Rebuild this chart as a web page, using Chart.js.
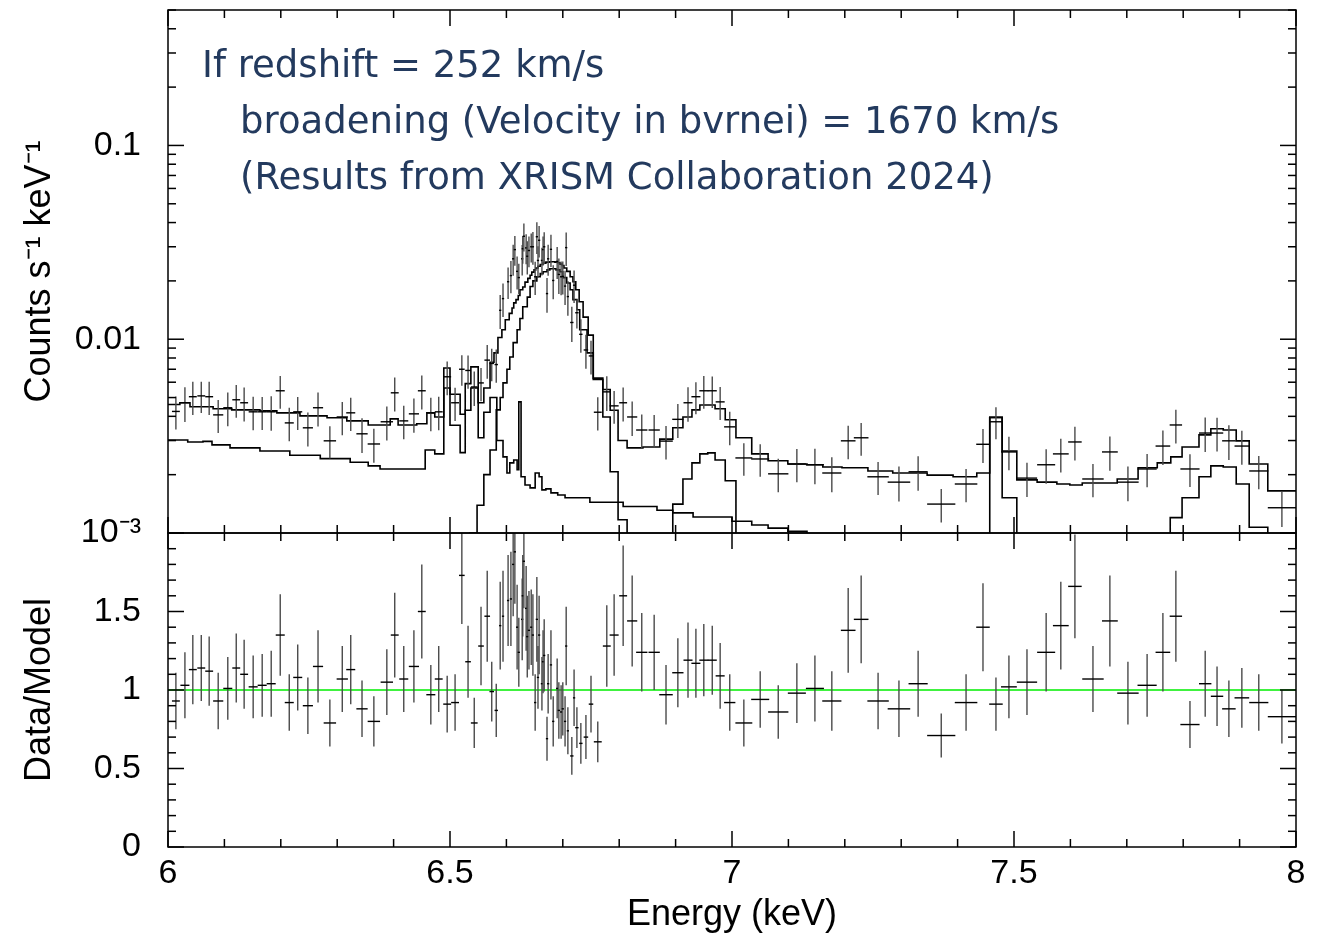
<!DOCTYPE html>
<html>
<head>
<meta charset="utf-8">
<script src="https://cdn.jsdelivr.net/npm/chart.js@4.4.0/dist/chart.umd.min.js"></script>
<style>
  html, body { margin: 0; padding: 0; background: #fff; }
  #wrap { position: relative; width: 1330px; height: 946px; }
</style>
</head>
<body>
<div id="wrap"><canvas id="spec" width="1330" height="946"></canvas></div>
<script>
// ============================================
// Data
// ============================================

// energy bin centres (keV) and half widths
const energy = [
  6.014, 6.030, 6.044, 6.059, 6.073, 6.089, 6.106, 6.121, 6.135, 6.151,
  6.167, 6.183, 6.199, 6.215, 6.230, 6.248, 6.266, 6.287, 6.309, 6.324,
  6.344, 6.365, 6.388, 6.402, 6.418, 6.436, 6.450, 6.466, 6.480, 6.495,
  6.509, 6.521, 6.532, 6.543, 6.555, 6.566, 6.574, 6.582, 6.589, 6.594,
  6.603, 6.608, 6.612, 6.615, 6.619, 6.622, 6.628, 6.629, 6.631, 6.635,
  6.637, 6.640, 6.644, 6.647, 6.651, 6.654, 6.656, 6.658, 6.663, 6.665,
  6.667, 6.672, 6.674, 6.679, 6.683, 6.690, 6.693, 6.697, 6.700, 6.704,
  6.706, 6.709, 6.716, 6.720, 6.725, 6.732, 6.741, 6.750, 6.762, 6.778,
  6.791, 6.807, 6.823, 6.840, 6.862, 6.883, 6.904, 6.922, 6.936, 6.950,
  6.965, 6.979, 6.996, 7.021, 7.050, 7.082, 7.115, 7.147, 7.177, 7.206,
  7.229, 7.259, 7.296, 7.330, 7.371, 7.415, 7.445, 7.468, 7.491, 7.523,
  7.557, 7.583, 7.608, 7.640, 7.670, 7.702, 7.736, 7.764, 7.787, 7.812,
  7.839, 7.860, 7.881, 7.904, 7.934, 7.975
];
const binHalf = [
  0.007, 0.008, 0.007, 0.007, 0.007, 0.009, 0.008, 0.007, 0.007, 0.008,
  0.008, 0.008, 0.008, 0.008, 0.008, 0.009, 0.009, 0.011, 0.010, 0.008,
  0.010, 0.011, 0.011, 0.007, 0.008, 0.009, 0.007, 0.008, 0.007, 0.007,
  0.007, 0.005, 0.005, 0.006, 0.005, 0.005, 0.004, 0.003, 0.002, 0.002,
  0.002, 0.002, 0.002, 0.002, 0.002, 0.002, 0.002, 0.002, 0.002, 0.002,
  0.002, 0.002, 0.002, 0.002, 0.002, 0.002, 0.002, 0.002, 0.002, 0.002,
  0.002, 0.002, 0.002, 0.002, 0.002, 0.002, 0.002, 0.002, 0.002, 0.002,
  0.002, 0.002, 0.003, 0.002, 0.003, 0.003, 0.004, 0.004, 0.007, 0.007,
  0.008, 0.007, 0.009, 0.010, 0.010, 0.012, 0.010, 0.008, 0.008, 0.008,
  0.008, 0.008, 0.010, 0.015, 0.016, 0.018, 0.016, 0.016, 0.017, 0.013,
  0.013, 0.019, 0.020, 0.017, 0.025, 0.020, 0.012, 0.012, 0.014, 0.018,
  0.016, 0.014, 0.012, 0.019, 0.014, 0.019, 0.017, 0.013, 0.011, 0.017,
  0.011, 0.011, 0.012, 0.013, 0.017, 0.025
];
// counts s^-1 keV^-1 (upper panel)
const counts = [
  0.00424, 0.00470, 0.00505, 0.00510, 0.00505, 0.00407, 0.00443, 0.00487, 0.00470, 0.00422,
  0.00422, 0.00422, 0.00542, 0.00370, 0.00422, 0.00349, 0.00443, 0.00299, 0.00397, 0.00417,
  0.00325, 0.00288, 0.00375, 0.00529, 0.00379, 0.00412, 0.00542, 0.00417, 0.00422, 0.00640,
  0.00470, 0.00700, 0.00690, 0.00567, 0.00595, 0.00780, 0.00750, 0.0074, 0.0141, 0.0162,
  0.0198, 0.0213, 0.0260, 0.0290, 0.0224, 0.0208, 0.0260, 0.0293, 0.0340, 0.0296,
  0.0268, 0.0287, 0.0300, 0.0300, 0.0210, 0.0338, 0.0255, 0.0324, 0.0255, 0.0290,
  0.0300, 0.0172, 0.0260, 0.0291, 0.0201, 0.0252, 0.0216, 0.0210, 0.0211, 0.0188,
  0.0297, 0.0166, 0.0122, 0.0190, 0.0137, 0.0106, 0.0088, 0.0082, 0.0042, 0.00535,
  0.00453, 0.00470, 0.00397, 0.00340, 0.00340, 0.00298, 0.00386, 0.00470, 0.00505, 0.00542,
  0.00542, 0.00475, 0.00353, 0.00244, 0.00241, 0.00202, 0.00227, 0.00225, 0.00204, 0.00299,
  0.00310, 0.00195, 0.00183, 0.00207, 0.00141, 0.00179, 0.00287, 0.00375, 0.00262, 0.00192,
  0.00225, 0.00256, 0.00295, 0.00190, 0.00262, 0.00183, 0.00214, 0.00281, 0.00361, 0.00214,
  0.00328, 0.00328, 0.00299, 0.00281, 0.00209, 0.00135
];
// data / model (lower panel) and its 1-sigma error
const ratio = [
  0.93, 1.03, 1.13, 1.14, 1.12, 0.93, 1.01, 1.14, 1.10, 1.02,
  1.03, 1.04, 1.35, 0.92, 1.08, 0.90, 1.15, 0.79, 1.07, 1.13,
  0.88, 0.80, 1.05, 1.35, 1.07, 1.15, 1.50, 0.97, 1.07, 0.91,
  0.92, 1.73, 1.18, 0.79, 1.28, 1.47, 0.99, 0.87, 1.41, 1.47,
  1.57, 1.58, 1.80, 1.88, 1.40, 1.24, 1.45, 1.60, 1.82, 1.52,
  1.34, 1.38, 1.40, 1.35, 0.92, 1.45, 1.08, 1.35, 1.04, 1.18,
  1.22, 0.69, 1.04, 1.16, 0.80, 1.01, 0.87, 0.86, 0.88, 0.80,
  1.28, 0.74, 0.58, 0.95, 0.76, 0.66, 0.70, 0.91, 0.67, 1.28,
  1.35, 1.60, 1.44, 1.24, 1.24, 0.97, 1.11, 1.19, 1.17, 1.19,
  1.19, 1.09, 0.92, 0.79, 0.94, 0.86, 0.98, 1.01, 0.93, 1.38,
  1.45, 0.93, 0.88, 1.04, 0.71, 0.92, 1.40, 0.91, 1.02, 1.05,
  1.24, 1.41, 1.66, 1.07, 1.44, 0.98, 1.03, 1.24, 1.47, 0.78,
  1.04, 0.96, 0.88, 0.95, 0.92, 0.83
];
const ratioErr = [
  0.18, 0.21, 0.22, 0.21, 0.22, 0.18, 0.20, 0.22, 0.22, 0.20,
  0.20, 0.21, 0.26, 0.18, 0.21, 0.18, 0.23, 0.15, 0.21, 0.22,
  0.18, 0.16, 0.21, 0.27, 0.21, 0.23, 0.30, 0.19, 0.21, 0.18,
  0.18, 0.31, 0.23, 0.16, 0.25, 0.29, 0.19, 0.17, 0.28, 0.29,
  0.29, 0.30, 0.33, 0.33, 0.27, 0.22, 0.26, 0.26, 0.30, 0.27,
  0.26, 0.25, 0.24, 0.26, 0.18, 0.27, 0.20, 0.25, 0.17, 0.20,
  0.23, 0.14, 0.19, 0.22, 0.16, 0.19, 0.18, 0.17, 0.17, 0.16,
  0.25, 0.15, 0.12, 0.18, 0.13, 0.13, 0.14, 0.18, 0.13, 0.26,
  0.26, 0.32, 0.29, 0.25, 0.24, 0.19, 0.22, 0.24, 0.22, 0.23,
  0.22, 0.21, 0.18, 0.15, 0.18, 0.17, 0.19, 0.21, 0.19, 0.27,
  0.28, 0.18, 0.18, 0.21, 0.14, 0.18, 0.28, 0.17, 0.20, 0.21,
  0.25, 0.28, 0.33, 0.21, 0.29, 0.20, 0.20, 0.25, 0.29, 0.15,
  0.21, 0.19, 0.18, 0.19, 0.18, 0.17
];

// model histograms: [bin start energy, value]; the last row closes the last bin
const totalModel = [
  [6.000, 0.00460], [6.021, 0.00470], [6.039, 0.00448], [6.080, 0.00438], [6.113, 0.00432],
  [6.163, 0.00427], [6.193, 0.00417], [6.234, 0.00402], [6.282, 0.00393], [6.317, 0.00379],
  [6.355, 0.00361], [6.394, 0.00388], [6.408, 0.00361], [6.441, 0.00366], [6.459, 0.00417],
  [6.473, 0.00397], [6.489, 0.00710], [6.500, 0.00520], [6.518, 0.00410], [6.527, 0.00590],
  [6.537, 0.00720], [6.550, 0.00470], [6.560, 0.00560], [6.571, 0.00760], [6.578, 0.00850],
  [6.585, 0.0102], [6.592, 0.0112], [6.598, 0.0126], [6.605, 0.0136], [6.610, 0.0145],
  [6.613, 0.0154], [6.617, 0.0160], [6.621, 0.0168], [6.624, 0.0180], [6.629, 0.0186],
  [6.633, 0.0197], [6.638, 0.0206], [6.642, 0.0214], [6.645, 0.0222], [6.649, 0.0228],
  [6.652, 0.0233], [6.656, 0.0238], [6.660, 0.0243], [6.665, 0.0247], [6.670, 0.0250],
  [6.677, 0.0251], [6.686, 0.0250], [6.691, 0.0248], [6.695, 0.0244], [6.699, 0.0240],
  [6.702, 0.0233], [6.707, 0.0224], [6.713, 0.0210], [6.718, 0.0198], [6.723, 0.0180],
  [6.729, 0.0156], [6.736, 0.0130], [6.745, 0.0105], [6.754, 0.0063], [6.771, 0.0055],
  [6.784, 0.0043], [6.798, 0.0030], [6.814, 0.00275], [6.842, 0.00278], [6.872, 0.00305],
  [6.895, 0.00349], [6.913, 0.00397], [6.929, 0.00432], [6.943, 0.00458], [6.970, 0.00438],
  [6.988, 0.00384], [7.007, 0.00310], [7.035, 0.00256], [7.064, 0.00236], [7.099, 0.00227],
  [7.133, 0.00225], [7.161, 0.00219], [7.195, 0.00217], [7.241, 0.00209], [7.285, 0.00204],
  [7.346, 0.00199], [7.392, 0.00195], [7.434, 0.00204], [7.457, 0.00395], [7.479, 0.00265],
  [7.505, 0.00188], [7.541, 0.00183], [7.576, 0.00179], [7.599, 0.00177], [7.621, 0.00181],
  [7.683, 0.00190], [7.720, 0.00217], [7.754, 0.00230], [7.778, 0.00247], [7.798, 0.00278],
  [7.828, 0.00321], [7.849, 0.00345], [7.871, 0.00340], [7.894, 0.00299], [7.917, 0.00227],
  [7.950, 0.00165], [8.000, null]
];
const contModel = [
  [6.000, 0.00302], [6.035, 0.00295], [6.062, 0.00297], [6.078, 0.00285], [6.110, 0.00275],
  [6.163, 0.00265], [6.216, 0.00252], [6.270, 0.00242], [6.323, 0.00232], [6.355, 0.00222],
  [6.376, 0.00214], [6.456, 0.00268], [6.473, 0.00256], [6.489, 0.00560], [6.500, 0.00360],
  [6.518, 0.00260], [6.527, 0.00430], [6.537, 0.00560], [6.550, 0.00310], [6.560, 0.00420],
  [6.571, 0.00500], [6.583, 0.00300], [6.594, 0.00247], [6.601, 0.00204], [6.606, 0.00230],
  [6.613, 0.00238], [6.619, 0.00212], [6.622, 0.00475], [6.626, 0.00195], [6.633, 0.00177],
  [6.642, 0.00171], [6.651, 0.00204], [6.658, 0.00195], [6.663, 0.00167], [6.670, 0.00169],
  [6.679, 0.00161], [6.691, 0.00157], [6.704, 0.00152], [6.748, 0.00144], [6.807, 0.00137],
  [6.867, 0.00131], [6.895, 0.00127], [6.931, 0.00121], [7.000, 0.00115], [7.035, 0.00110],
  [7.064, 0.00106], [7.099, 0.00102], [7.133, 0.0001], [7.200, null]
];
const heModel = [
  [6.520, 0.0001], [6.535, 0.00100], [6.548, 0.00139], [6.560, 0.00200], [6.571, 0.00268],
  [6.582, 0.00432], [6.589, 0.00500], [6.594, 0.00595], [6.601, 0.00700], [6.606, 0.00810],
  [6.612, 0.00960], [6.619, 0.0112], [6.624, 0.0128], [6.629, 0.0147], [6.637, 0.0165],
  [6.642, 0.0187], [6.647, 0.0200], [6.654, 0.0210], [6.660, 0.0218], [6.665, 0.0223],
  [6.672, 0.0228], [6.677, 0.0231], [6.688, 0.0228], [6.695, 0.0223], [6.700, 0.0208],
  [6.707, 0.0195], [6.713, 0.0180], [6.718, 0.0160], [6.725, 0.0142], [6.730, 0.0112],
  [6.743, 0.0085], [6.754, 0.0062], [6.771, 0.00397], [6.784, 0.00207], [6.798, 0.00117],
  [6.814, 0.0001], [6.830, null]
];
const lyaModel = [
  [6.880, 0.0001], [6.895, 0.00141], [6.913, 0.00190], [6.929, 0.00230], [6.943, 0.00256],
  [6.957, 0.00259], [6.970, 0.00238], [6.988, 0.00186], [7.007, 0.0001], [7.020, null]
];
const niModel = [
  [7.440, 0.0001], [7.457, 0.00395], [7.479, 0.00152], [7.505, 0.0001], [7.520, null]
];
const hebModel = [
  [7.760, 0.0001], [7.777, 0.00120], [7.798, 0.00152], [7.828, 0.00195], [7.849, 0.00222],
  [7.871, 0.00219], [7.894, 0.00179], [7.917, 0.00107], [7.950, 0.0001], [7.970, null]
];

const xTickLabels = ['6', '6.5', '7', '7.5', '8'];
const countTickLabels = { '-1': '0.1', '-2': '0.01', '-3': '10\u207B\u00B3' };
const ratioTickLabels = ['0', '0.5', '1', '1.5'];

const noteLines = [
  'If redshift = 252 km/s',
  'broadening (Velocity in bvrnei) = 1670 km/s',
  '(Results from XRISM Collaboration 2024)'
];

// ============================================
// Helpers
// ============================================

const AXIS_FONT = "'Liberation Sans', Arial, Helvetica, sans-serif";

function stepPoints(rows) {
  return rows.map((r, i) => ({ x: r[0], y: r[1] !== null ? r[1] : rows[i - 1][1] }));
}

function modelSet(label, rows) {
  return {
    label: label,
    data: stepPoints(rows),
    yAxisID: 'y',
    stepped: true,
    borderColor: '#000',
    borderWidth: 1.6,
    pointRadius: 0,
    fill: false
  };
}

// clip every dataset to its own panel
const panelClip = {
  id: 'panelClip',
  beforeDatasetDraw(chart, args) {
    const ys = chart.scales[args.meta.yAxisID];
    const xs = chart.scales.x;
    const ctx = chart.ctx;
    ctx.save();
    ctx.beginPath();
    ctx.rect(xs.left, ys.top, xs.right - xs.left, ys.bottom - ys.top);
    ctx.clip();
  },
  afterDatasetDraw(chart) {
    chart.ctx.restore();
  }
};

// data points drawn as error crosses
const errorCrosses = {
  id: 'errorCrosses',
  afterDatasetsDraw(chart) {
    const { ctx, scales } = chart;
    const xs = scales.x;
    const panels = [
      { s: scales.y, val: i => counts[i], lo: i => counts[i] * (1 - ratioErr[i] / ratio[i]), hi: i => counts[i] * (1 + ratioErr[i] / ratio[i]) },
      { s: scales.y2, val: i => ratio[i], lo: i => ratio[i] - ratioErr[i], hi: i => ratio[i] + ratioErr[i] }
    ];
    panels.forEach(p => {
      ctx.save();
      ctx.beginPath();
      ctx.rect(xs.left, p.s.top, xs.right - xs.left, p.s.bottom - p.s.top);
      ctx.clip();
      ctx.lineWidth = 1.4;
      energy.forEach((e, i) => {
        const px = xs.getPixelForValue(e);
        const x0 = xs.getPixelForValue(e - binHalf[i]);
        const x1 = xs.getPixelForValue(e + binHalf[i]);
        const py = p.s.getPixelForValue(p.val(i));
        ctx.strokeStyle = '#4a4a4a';
        ctx.beginPath();
        ctx.moveTo(px, p.s.getPixelForValue(p.hi(i)));
        ctx.lineTo(px, p.s.getPixelForValue(p.lo(i)));
        ctx.stroke();
        ctx.strokeStyle = '#000';
        ctx.beginPath();
        ctx.moveTo(x0, py);
        ctx.lineTo(x1, py);
        ctx.stroke();
      });
      ctx.restore();
    });
  }
};

// frames, inward tick marks and the annotation
const frameAndTicks = {
  id: 'frameAndTicks',
  afterDraw(chart) {
    const { ctx, scales } = chart;
    const xs = scales.x, yt = scales.y, yb = scales.y2;
    const L = xs.left, R = xs.right;
    ctx.save();
    ctx.strokeStyle = '#000';
    ctx.lineWidth = 1.5;
    const seg = (a, b, c, d) => { ctx.beginPath(); ctx.moveTo(a, b); ctx.lineTo(c, d); ctx.stroke(); };

    [yt, yb].forEach(s => ctx.strokeRect(L, s.top, R - L, s.bottom - s.top));

    // x ticks on all four horizontal edges
    for (let k = 0; k <= 20; k++) {
      const px = xs.getPixelForValue(6 + k * 0.1);
      const len = k % 5 === 0 ? 16 : 8;
      seg(px, yt.top, px, yt.top + len);
      seg(px, yt.bottom, px, yt.bottom - len);
      seg(px, yb.top, px, yb.top + len);
      seg(px, yb.bottom, px, yb.bottom - len);
    }
    // log ticks, upper panel
    for (let d = -3; d <= -1; d++) {
      for (let m = 1; m <= 9; m++) {
        const v = m * Math.pow(10, d);
        if (v > yt.max * 1.0001) continue;
        const py = yt.getPixelForValue(v);
        const len = m === 1 ? 16 : 8;
        seg(L, py, L + len, py);
        seg(R, py, R - len, py);
      }
    }
    // linear ticks, lower panel
    for (let k = 0; k <= 20; k++) {
      const py = yb.getPixelForValue(k * 0.1);
      const len = k % 5 === 0 ? 16 : 8;
      seg(L, py, L + len, py);
      seg(R, py, R - len, py);
    }

    // annotation
    ctx.fillStyle = '#233a5e';
    ctx.font = "37px 'DejaVu Sans', 'Noto Sans', sans-serif";
    ctx.textBaseline = 'alphabetic';
    ctx.textAlign = 'left';
    ctx.fillText(noteLines[0], 202, 77);
    ctx.fillText(noteLines[1], 240, 133);
    ctx.fillText(noteLines[2], 240, 189);
    ctx.restore();
  }
};

function fixWidth(scale) {
  scale.width = 168;
  scale.paddingTop = 0;
  scale.paddingBottom = 0;
}

// ============================================
// Chart
// ============================================

new Chart(document.getElementById('spec'), {
  type: 'line',
  data: {
    datasets: [
      modelSet('total', totalModel),
      modelSet('continuum', contModel),
      modelSet('Fe He', heModel),
      modelSet('Fe Ly', lyaModel),
      modelSet('Ni He', niModel),
      modelSet('Fe He beta', hebModel),
      {
        label: 'unity',
        data: [{ x: 6, y: 1 }, { x: 8, y: 1 }],
        yAxisID: 'y2',
        borderColor: '#00ee00',
        borderWidth: 1.3,
        pointRadius: 0,
        fill: false
      }
    ]
  },
  options: {
    responsive: false,
    animation: false,
    devicePixelRatio: 1,
    layout: { padding: { top: 10, right: 34, bottom: 0, left: 0 } },
    plugins: {
      legend: { display: false },
      tooltip: { enabled: false }
    },
    scales: {
      x: {
        type: 'linear',
        position: 'bottom',
        min: 6,
        max: 8,
        grid: { display: false, drawTicks: false },
        border: { display: false },
        ticks: {
          stepSize: 0.5,
          padding: 6,
          color: '#000',
          autoSkip: false,
          maxRotation: 0,
          font: { family: AXIS_FONT, size: 34 },
          callback: (v) => xTickLabels[Math.round((v - 6) * 2)]
        },
        title: {
          display: true,
          text: 'Energy (keV)',
          color: '#000',
          font: { family: AXIS_FONT, size: 36 },
          padding: { top: 0, bottom: 9 }
        },
        afterFit: (s) => { s.height = 99; s.paddingLeft = 0; s.paddingRight = 0; }
      },
      // left boxes are stacked in reverse order, so the lower panel comes first
      y2: {
        type: 'linear',
        position: 'left',
        stack: 'panels',
        stackWeight: 314,
        min: 0,
        max: 2,
        grid: { display: false, drawTicks: false },
        border: { display: false },
        ticks: {
          stepSize: 0.5,
          padding: 27,
          color: '#000',
          autoSkip: false,
          font: { family: AXIS_FONT, size: 34 },
          callback: (v) => {
            const k = Math.round(v * 2);
            return ratioTickLabels[k] !== undefined ? ratioTickLabels[k] : '';
          }
        },
        title: {
          display: true,
          text: 'Data/Model',
          color: '#000',
          font: { family: AXIS_FONT, size: 36 },
          padding: { top: 18, bottom: 0 }
        },
        afterFit: fixWidth
      },
      y: {
        type: 'logarithmic',
        position: 'left',
        stack: 'panels',
        stackWeight: 523,
        min: 0.001,
        max: 0.5,
        grid: { display: false, drawTicks: false },
        border: { display: false },
        ticks: {
          padding: 27,
          color: '#000',
          autoSkip: false,
          font: { family: AXIS_FONT, size: 34 },
          callback: (v) => {
            const lg = Math.log10(v);
            const r = Math.round(lg);
            return Math.abs(lg - r) < 1e-6 && countTickLabels[r] ? countTickLabels[r] : '';
          }
        },
        title: {
          display: true,
          text: 'Counts s\u207B\u00B9 keV\u207B\u00B9',
          color: '#000',
          font: { family: AXIS_FONT, size: 36 },
          padding: { top: 18, bottom: 0 }
        },
        afterFit: fixWidth
      }
    }
  },
  plugins: [panelClip, errorCrosses, frameAndTicks]
});
</script>
</body>
</html>
